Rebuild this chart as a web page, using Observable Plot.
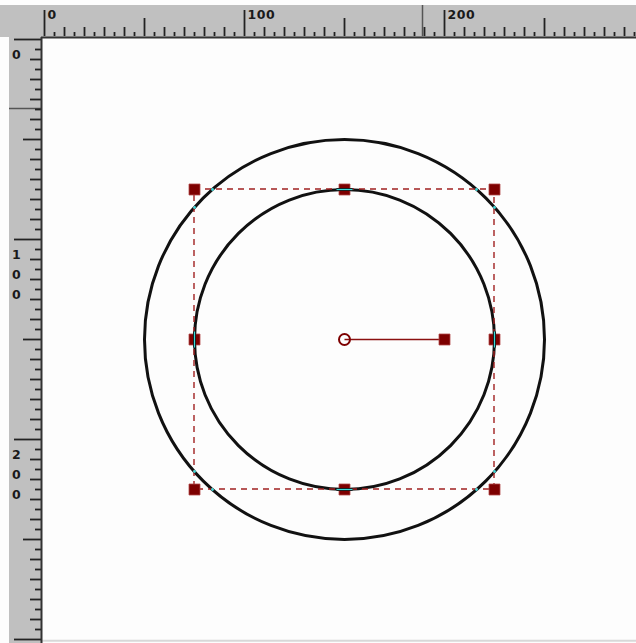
<!DOCTYPE html>
<html>
<head>
<meta charset="utf-8">
<script src="https://cdn.jsdelivr.net/npm/d3@7"></script>
<script src="https://cdn.jsdelivr.net/npm/@observablehq/plot@0.6"></script>
<style>
  html, body { margin: 0; padding: 0; background: #ffffff; }
  #chart svg text { letter-spacing: 0.5px; }
</style>
</head>
<body>
<div id="chart"></div>
<script>
// ---- data (drawing units) ----
const circleCx = [150, 150];
const circleCy = [150, 150];
const circleR = [100, 75];

const boxX1 = 75, boxY1 = 75, boxX2 = 225, boxY2 = 225;

const handleX = [75, 150, 225, 75, 225, 75, 150, 225];
const handleY = [75, 75, 75, 150, 150, 225, 225, 225];

const pivot = [150, 150];
const rotHandle = [200, 150];

// where the outer circle crosses the selection box
const crossX = [84, 216, 84, 216, 75, 75, 225, 225];
const crossY = [75, 75, 225, 225, 84, 216, 84, 216];

const topLabelValues = [0, 100, 200];
const topLabels = ["0", "100", "200"];
const leftLabelValues = [0, 100, 200];
const leftLabels = ["0", "1\n0\n0", "2\n0\n0"];

const cursorX = 189;
const cursorY = 34.5;

// ---- derived tables ----
const circles = circleR.map((r, i) => ({x: circleCx[i], y: circleCy[i], r}));
const handles = handleX.map((x, i) => ({x, y: handleY[i]}));
const crosses = crossX.map((x, i) => ({x, y: crossY[i]}));
const topTicks = d3.range(0, 300, 5);
const leftTicks = d3.range(0, 305, 5);
function topLen(v) { return v % 100 === 0 ? -14.5 : v % 50 === 0 ? -10.5 : v % 10 === 0 ? -6 : -3.5; }
function leftLen(v) { return v % 100 === 0 ? -15 : v % 50 === 0 ? -10.5 : v % 10 === 0 ? -7 : -4.5; }

const dark = "#7d0000";
const grayRuler = "#c0c0c0";

const midSegs = [
  {x1: 146, x2: 154, y1: 75, y2: 75},
  {x1: 146, x2: 154, y1: 225, y2: 225},
  {x1: 75, x2: 75, y1: 146, y2: 154},
  {x1: 225, x2: 225, y1: 146, y2: 154}
];

const chart = Plot.plot({
  width: 636,
  height: 643,
  margin: 0,
  style: {background: "#fdfdfd", fontFamily: "DejaVu Sans"},
  x: {domain: [-22, 296], range: [0, 636], axis: null},
  y: {domain: [-19.5, 302], range: [0, 643], axis: null},
  r: {type: "linear", domain: [0, 100], range: [0, 200]},
  marks: [
    // ruler backgrounds
    Plot.rect([0], {x1: -22, x2: 296, y1: -17, y2: -1, fill: grayRuler}),
    Plot.rect([0], {x1: -17.5, x2: -1, y1: -1, y2: 302, fill: grayRuler}),
    // bottom light line
    Plot.ruleY([300.6], {x1: -1, x2: 296, stroke: "#d8d8d8", strokeWidth: 2}),
    // cursor markers
    Plot.ruleX([cursorX], {y1: -17, y2: -1.5, stroke: "#555", strokeWidth: 1.5}),
    Plot.ruleY([cursorY], {x1: -17.5, x2: -1.5, stroke: "#555", strokeWidth: 1.5}),
    // top ruler ticks
    Plot.ruleX(topTicks, {x: d => d, y1: d => topLen(d), y2: -1.5, stroke: "#222", strokeWidth: 1.8}),
    // left ruler ticks
    Plot.ruleY(leftTicks, {y: d => d, x1: d => leftLen(d), x2: -1.5, stroke: "#222", strokeWidth: 1.8}),
    // ruler border lines
    Plot.ruleY([-1], {x1: -1.5, x2: 296, stroke: "#333", strokeWidth: 2}),
    Plot.ruleX([-1.5], {y1: -1, y2: 302, stroke: "#333", strokeWidth: 2}),
    // ruler labels
    Plot.text(topLabelValues, {x: d => d, y: -12.5, text: (d, i) => topLabels[i], textAnchor: "start", dx: 3, fill: "#1a1a1a", fontSize: 12.5, fontWeight: "bold"}),
    Plot.text(leftLabelValues, {x: -14, y: d => d, text: (d, i) => leftLabels[i], textAnchor: "middle", lineAnchor: "top", dy: 5, lineHeight: 1.6, fill: "#1a1a1a", fontSize: 12.5, fontWeight: "bold"}),
    // circles
    Plot.dot(circles, {x: "x", y: "y", r: "r", fill: "none", stroke: "#111", strokeWidth: 3}),
    // selection box
    Plot.rect([0], {x1: boxX1, x2: boxX2, y1: boxY1, y2: boxY2, fill: "none", stroke: "#a02020", strokeWidth: 1.4, strokeDasharray: "6,5"}),
    // cyan crossings
    Plot.dot(crosses, {x: "x", y: "y", r: 1.4, fill: "#3fd8d8"}),
    // rotation line & pivot
    Plot.link([0], {x1: pivot[0], y1: pivot[1], x2: rotHandle[0], y2: rotHandle[1], stroke: "#8b1010", strokeWidth: 1.5}),
    Plot.dot([0], {x: pivot[0], y: pivot[1], r: 5.5, fill: "none", stroke: dark, strokeWidth: 2}),
    // handles
    Plot.dot(handles, {x: "x", y: "y", symbol: "square", r: 6.2, fill: dark, stroke: "#b04848", strokeWidth: 0.8}),
    Plot.dot([0], {x: rotHandle[0], y: rotHandle[1], symbol: "square", r: 6.2, fill: dark, stroke: "#b04848", strokeWidth: 0.8}),
    // circle stroke passing over mid handles
    Plot.link(midSegs, {x1: "x1", x2: "x2", y1: "y1", y2: "y2", stroke: "#111", strokeWidth: 3}),
    Plot.link(midSegs, {x1: "x1", x2: "x2", y1: "y1", y2: "y2", stroke: "#3fd8d8", strokeWidth: 1.2})
  ]
});
document.getElementById("chart").append(chart);
</script>
</body>
</html>
